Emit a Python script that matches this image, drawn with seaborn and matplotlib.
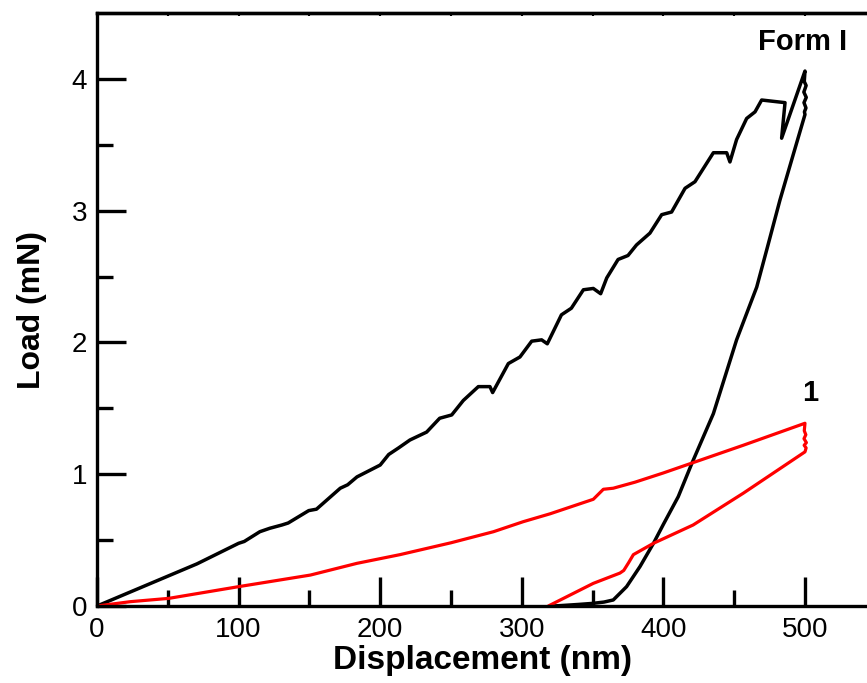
import matplotlib
matplotlib.use('Agg')
import matplotlib.pyplot as plt
import seaborn as sns
import pandas as pd

# Form I: loading, hold at peak, unloading
form1_disp = [0, 35.3, 70.6, 100, 104, 115, 122, 130.6, 135, 149.5, 155, 171.8, 177, 183.6,
              200, 206, 213, 221, 232.8, 242, 250.5, 258.7, 269.3, 277.5, 279.4, 290.5,
              298.7, 307, 314, 318, 328, 335, 343.5, 350.5, 355.7, 360, 368, 375, 381,
              390.5, 398.8, 405.8, 415.3, 422.3, 435.3, 444.7, 447, 451.7, 458.8, 464.7,
              469.4, 485.9, 483.5, 500,
              499.5, 500.8, 499.2, 500.9, 499.3, 500.7, 499.6, 500,
              491, 482.3, 473.4, 465.9, 451.7, 435.3, 420, 410.5, 400, 393, 383.5, 374,
              364.6, 358, 350, 340, 330, 322]
form1_load = [0, 0.16, 0.32, 0.476, 0.49, 0.564, 0.59, 0.615, 0.63, 0.724, 0.735, 0.894, 0.92, 0.98,
              1.07, 1.15, 1.2, 1.26, 1.32, 1.425, 1.45, 1.56, 1.665, 1.665, 1.62, 1.84,
              1.89, 2.01, 2.02, 1.99, 2.21, 2.26, 2.40, 2.41, 2.37, 2.49, 2.63, 2.66, 2.74,
              2.83, 2.97, 2.99, 3.17, 3.22, 3.44, 3.44, 3.37, 3.54, 3.70, 3.75,
              3.84, 3.82, 3.55, 4.06,
              3.98, 3.95, 3.90, 3.86, 3.82, 3.78, 3.75, 3.73,
              3.40, 3.08, 2.72, 2.42, 2.02, 1.46, 1.08, 0.83, 0.62, 0.476, 0.30, 0.147,
              0.046, 0.03, 0.02, 0.012, 0.005, 0]

# compound 1: loading, hold at peak, unloading
c1_disp = [0, 23.5, 50.6, 100, 150.7, 183.6, 214, 250, 280, 301, 320, 350.5, 357.6, 364.6,
           380, 400, 418.8, 456.4, 500,
           499.5, 500.6, 499.3, 501, 499.4, 500.8, 500,
           456.4, 421, 393, 378.8, 375.5, 372, 369.3, 350.5, 318.7]
c1_load = [0, 0.033, 0.058, 0.147, 0.235, 0.324, 0.39, 0.48, 0.564, 0.64, 0.70, 0.81, 0.886, 0.894,
           0.94, 1.01, 1.08, 1.22, 1.387,
           1.33, 1.30, 1.27, 1.24, 1.22, 1.20, 1.17,
           0.856, 0.615, 0.476, 0.39, 0.33, 0.27, 0.25, 0.172, 0]

x_ticks = [0, 100, 200, 300, 400, 500]
y_ticks = [0, 1, 2, 3, 4]

df1 = pd.DataFrame({'disp': form1_disp, 'load': form1_load})
df2 = pd.DataFrame({'disp': c1_disp, 'load': c1_load})

sns.set_theme(style='white')
plt.rcParams['font.family'] = ['Liberation Sans', 'DejaVu Sans']

fig = plt.figure(figsize=(8.67, 6.83), dpi=100)
ax = fig.add_axes([0.1119, 0.1127, 0.8881, 0.8682])

sns.lineplot(data=df1, x='disp', y='load', sort=False, estimator=None,
             color='black', linewidth=2.5, ax=ax)
sns.lineplot(data=df2, x='disp', y='load', sort=False, estimator=None,
             color='#ff0000', linewidth=2.3, ax=ax)

ax.set_xlim(0, 543.8)
ax.set_ylim(0, 4.5)
ax.set_xticks(x_ticks)
ax.set_xticks([50, 150, 250, 350, 450], minor=True)
ax.set_yticks(y_ticks)
ax.set_yticks([0.5, 1.5, 2.5, 3.5], minor=True)
ax.tick_params(which='both', bottom=True, left=True, top=False, right=False)
ax.tick_params(which='major', direction='in', length=21, width=2.4,
               labelsize=20, pad=7, color='black', labelcolor='black')
ax.tick_params(which='minor', direction='in', length=11.5, width=2.4, color='black')
ax.tick_params(axis='x', pad=8)

for side in ['left', 'bottom', 'top']:
    ax.spines[side].set_linewidth(2.4)
    ax.spines[side].set_color('black')
ax.spines['right'].set_visible(False)

top = ax.secondary_xaxis('top')
top.set_xticks([0, 50, 100, 150, 200, 250, 300, 350, 400, 450, 500])
top.tick_params(direction='in', length=2, width=1.5, labeltop=False, color='black')
top.spines['top'].set_linewidth(2.4)
top.spines['top'].set_color('black')

ax.set_xlabel('Displacement (nm)', fontsize=24, fontweight='bold', labelpad=1, color='black')
ax.set_ylabel('Load (mN)', fontsize=23, fontweight='bold', labelpad=18, color='black')

ax.text(498.6, 4.28, 'Form I', fontsize=21, fontweight='bold', ha='center', va='center', color='black')
ax.text(503.5, 1.62, '1', fontsize=21, fontweight='bold', ha='center', va='center', color='black')

fig.savefig('out.png', dpi=100)
plt.close(fig)
